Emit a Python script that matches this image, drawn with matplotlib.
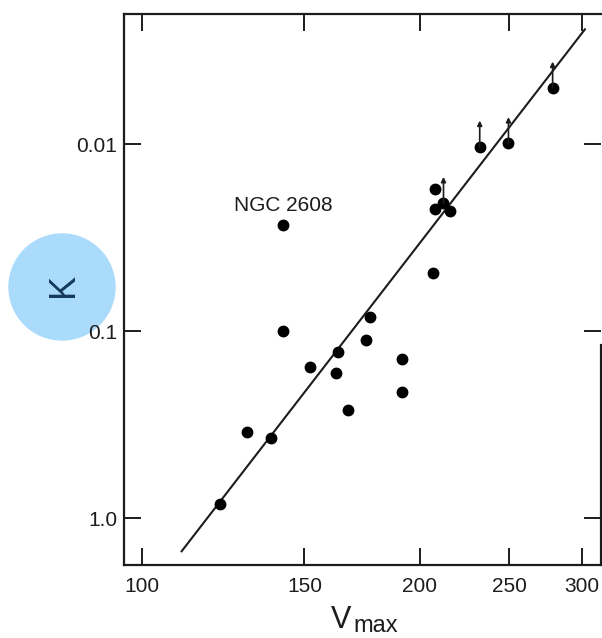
import numpy as np
import matplotlib.pyplot as plt
from matplotlib.patches import Ellipse
from matplotlib.ticker import NullLocator

plt.rcParams['font.family'] = ['Liberation Sans', 'DejaVu Sans']

#données : vitesse max et K pour chaque galaxie
vmax = [121.5, 130.0, 138.0, 142.3, 142.1, 152.1, 163.0, 162.3, 167.4, 174.8, 176.8,
        191.2, 191.4, 207.0, 207.6, 207.7, 212.3, 215.6, 232.4, 249.7, 278.8]
k = [0.837, 0.344, 0.374, 0.0272, 0.100, 0.155, 0.130, 0.168, 0.264, 0.1117, 0.0841,
     0.140, 0.212, 0.0491, 0.01746, 0.0223, 0.0207, 0.0228, 0.01035, 0.00991, 0.00501]
limite = [False, False, False, False, False, False, False, False, False, False, False,
          False, False, False, False, False, True, False, True, True, True]  # limites sup.
nom = 'NGC 2608'
i_nom = 3

#droite d'ajustement (extrémités)
v_fit = [110.4, 302.2]
k_fit = [1.50, 0.00244]

x_ticks = [100, 150, 200, 250, 300]
x_labels = ['100', '150', '200', '250', '300']
y_ticks = [0.01, 0.1, 1.0]
y_labels = ['0.01', '0.1', '1.0']

ink = '#1c1c1c'

fig = plt.figure(figsize=(6.02, 6.38), dpi=100)
ax = fig.add_axes([124/602, 1-565/638, (601-124)/602, (565-14)/638])
ax.set_xscale('log')
ax.set_yscale('log')
ax.set_xlim(95.6, 314.6)
ax.set_ylim(1.776, 0.00202)

ax.plot(v_fit, k_fit, color=ink, lw=1.5, zorder=2)
ax.plot(vmax, k, 'o', color='black', ms=7.5, zorder=3)

# flèches vers le haut pour les limites
for v, kk, lim in zip(vmax, k, limite):
    if lim:
        ax.annotate('', xy=(v, kk / 10**0.14), xytext=(v, kk),
                    arrowprops=dict(arrowstyle='-|>', color=ink, lw=1.2,
                                    mutation_scale=7, shrinkA=0, shrinkB=0))

ax.annotate(nom, xy=(vmax[i_nom], k[i_nom]), xytext=(0, 10), textcoords='offset points',
            ha='center', va='baseline', fontsize=15, color=ink)

ax.set_xticks(x_ticks)
ax.set_xticklabels(x_labels)
ax.set_yticks(y_ticks)
ax.set_yticklabels(y_labels)
ax.xaxis.set_minor_locator(NullLocator())
ax.yaxis.set_minor_locator(NullLocator())
ax.tick_params(direction='in', length=12, width=1.4, top=True, right=True,
               labelsize=15, colors=ink)
ax.tick_params(axis='x', pad=9)
ax.tick_params(axis='y', pad=5)
for s in ax.spines.values():
    s.set_linewidth(1.6)
    s.set_color(ink)
ax.spines['right'].set_bounds(0.119, 1.776)

# pastille bleue derrière le K
fig.add_artist(Ellipse((62/602, 1-287/638), 106/602, 106/638, transform=fig.transFigure,
                       color='#aadbfb', zorder=0))
fig.text(63/602, 1-285/638, 'K', rotation=90, ha='center', va='center',
         fontsize=26, color='#163a5c')

# V_max : V et indice écrits séparément
fig.text(341/602, 1-628/638, 'V', ha='center', va='baseline', fontsize=22, color=ink)
fig.text(353/602, 1-632/638, 'max', ha='left', va='baseline', fontsize=17, color=ink)

plt.savefig('out.png')
